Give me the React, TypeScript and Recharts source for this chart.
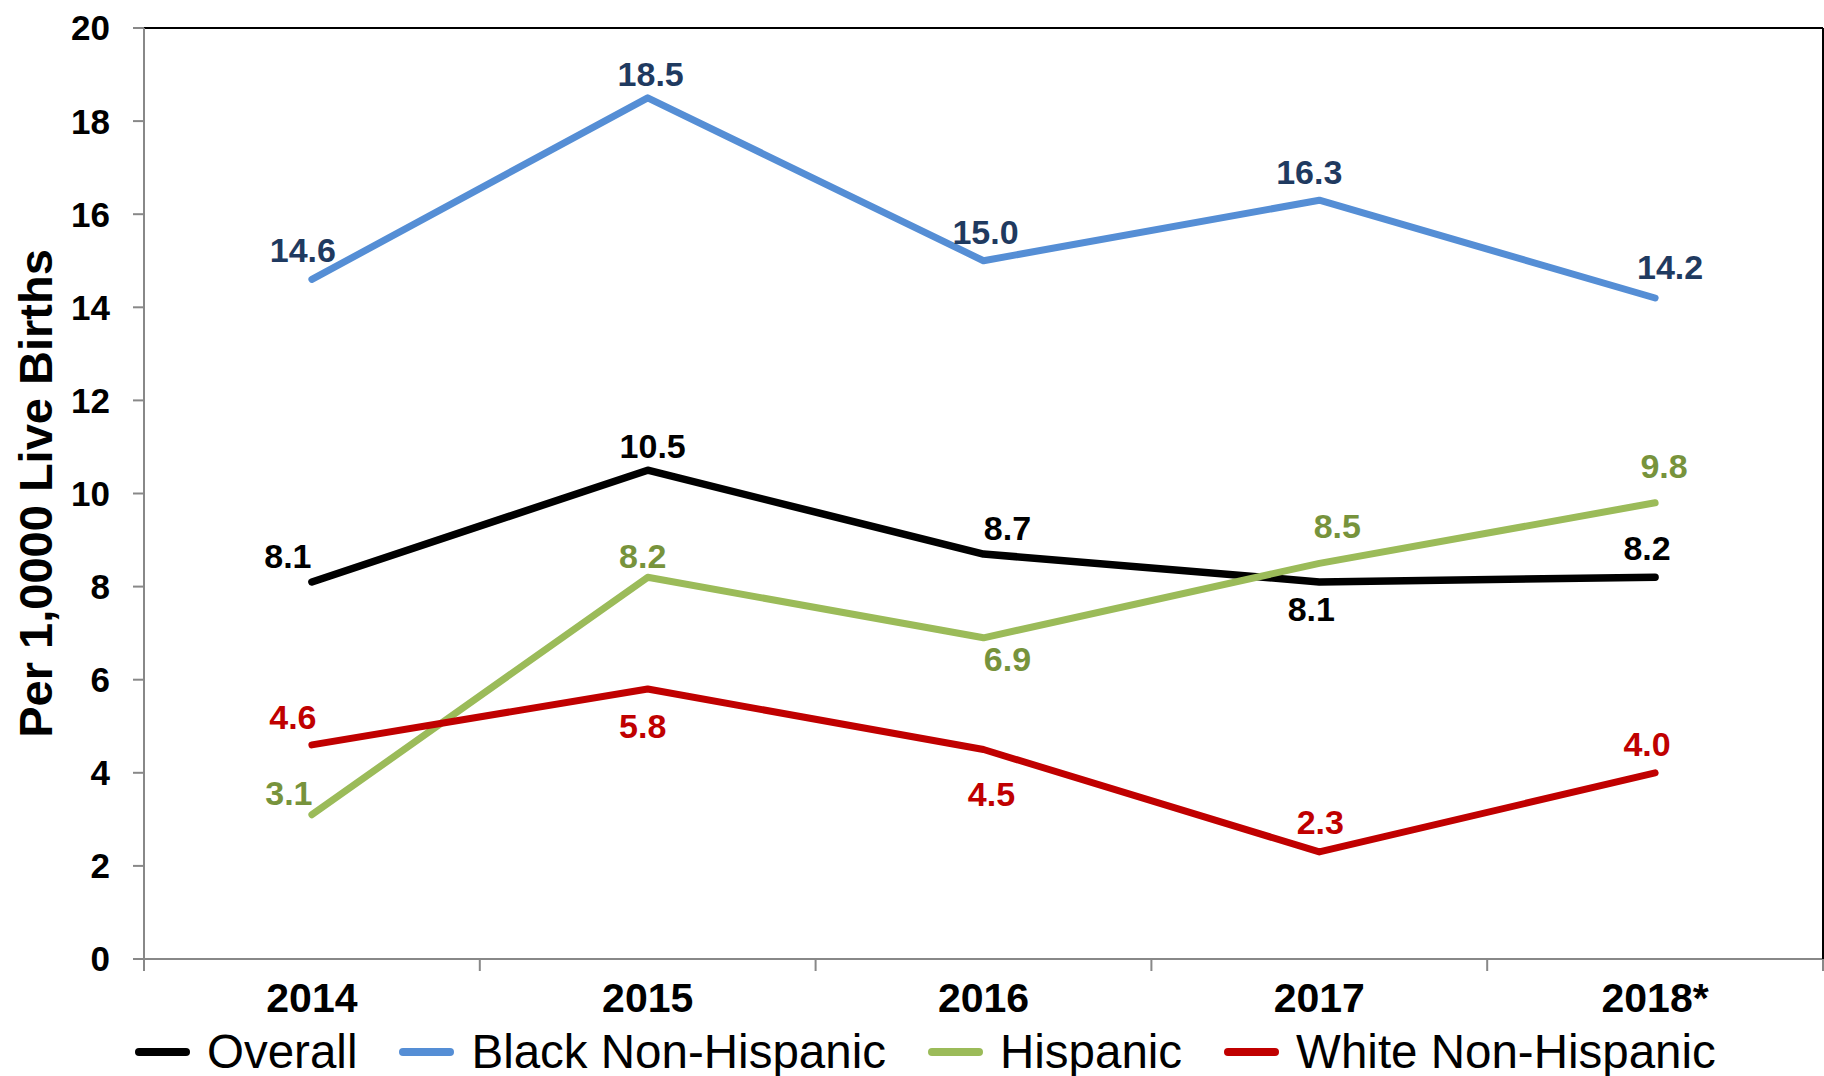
import { CartesianGrid, LabelList, Line, LineChart, ReferenceLine, XAxis, YAxis } from "recharts";

const years = ["2014", "2015", "2016", "2017", "2018*"];
const overall = [8.1, 10.5, 8.7, 8.1, 8.2];
const blackNH = [14.6, 18.5, 15.0, 16.3, 14.2];
const hispanic = [3.1, 8.2, 6.9, 8.5, 9.8];
const whiteNH = [4.6, 5.8, 4.5, 2.3, 4.0];
const yTicks = [0, 2, 4, 6, 8, 10, 12, 14, 16, 18, 20];

// label nudges (px) relative to each point, per series
const overallNudge = [[-24, -26], [5, -24], [24, -26], [-8, 27], [-8, -29]];
const blackNudge = [[-9, -29], [3, -24], [2, -29], [-10, -28], [15, -31]];
const hispanicNudge = [[-23, -22], [-5, -21], [24, 21], [18, -37], [9, -37]];
const whiteNudge = [[-19, -28], [-5, 37], [8, 44], [1, -30], [-8, -29]];

const FONT = "'Liberation Sans', Arial, Helvetica, sans-serif";
const W = 1824;
const H = 1076;
const PLOT_LEFT = 144;
const HALF_BAND = (W - PLOT_LEFT - 1) / years.length / 2;

const data = years.map((year, i) => ({
  year,
  overall: overall[i],
  black: blackNH[i],
  hispanic: hispanic[i],
  white: whiteNH[i],
}));

const series = [
  { key: "overall", name: "Overall", line: "#000000", label: "#000000", nudge: overallNudge, width: 7.5 },
  { key: "black", name: "Black Non-Hispanic", line: "#558ED5", label: "#1F3A60", nudge: blackNudge, width: 7 },
  { key: "hispanic", name: "Hispanic", line: "#9BBB59", label: "#77933C", nudge: hispanicNudge, width: 7 },
  { key: "white", name: "White Non-Hispanic", line: "#C00000", label: "#C00000", nudge: whiteNudge, width: 7 },
];

function makeLabel(color: string, nudge: number[][]) {
  return (props: any) => {
    const { x, y, value, index } = props;
    const [dx, dy] = nudge[index] ?? [0, -26];
    return (
      <text
        x={x + dx}
        y={y + dy + 12}
        textAnchor="middle"
        fill={color}
        fontSize={34}
        fontWeight="bold"
        fontFamily={FONT}
      >
        {Number(value).toFixed(1)}
      </text>
    );
  };
}

function XTick(props: any) {
  const { x, y, payload, index } = props;
  const last = index === years.length - 1;
  return (
    <g>
      <line x1={x - HALF_BAND} x2={x - HALF_BAND} y1={y} y2={y + 12} stroke="#888" strokeWidth={2} />
      {last && <line x1={x + HALF_BAND} x2={x + HALF_BAND} y1={y} y2={y + 12} stroke="#888" strokeWidth={2} />}
      <text x={x} y={y + 53} textAnchor="middle" fontSize={41} fontWeight="bold" fontFamily={FONT} fill="#000">
        {payload.value}
      </text>
    </g>
  );
}

function YTitle(props: any) {
  const vb = props.viewBox;
  const cy = vb.y + vb.height / 2;
  return (
    <text
      x={52}
      y={cy}
      transform={`rotate(-90, 52, ${cy})`}
      textAnchor="middle"
      fontSize={47}
      fontWeight="bold"
      fontFamily={FONT}
      fill="#000"
    >
      Per 1,0000 Live Births
    </text>
  );
}

export default function App() {
  return (
    <div style={{ position: "absolute", left: 0, top: 0, width: W, height: H, background: "#fff", fontFamily: FONT }}>
      <LineChart width={W} height={H} data={data} margin={{ top: 28, right: 0, left: 0, bottom: 0 }}>
        <CartesianGrid vertical={false} stroke="#8c8c8c" strokeWidth={2} />
        <XAxis
          dataKey="year"
          padding={{ left: HALF_BAND, right: HALF_BAND }}
          height={117}
          axisLine={{ stroke: "#888", strokeWidth: 2 }}
          tickLine={false}
          tickSize={0}
          tickMargin={0}
          tick={<XTick />}
          interval={0}
        />
        <YAxis
          yAxisId="left"
          width={PLOT_LEFT}
          domain={[0, 20]}
          ticks={yTicks}
          interval={0}
          axisLine={{ stroke: "#888", strokeWidth: 2 }}
          tickLine={{ stroke: "#888", strokeWidth: 2 }}
          tickSize={11}
          tickMargin={23}
          tick={{ fontSize: 35, fontWeight: "bold", fill: "#000", fontFamily: FONT }}
          label={<YTitle />}
        />
        <YAxis
          yAxisId="right"
          orientation="right"
          width={1}
          domain={[0, 20]}
          tick={false}
          tickLine={false}
          axisLine={{ stroke: "#000", strokeWidth: 2 }}
        />
        <ReferenceLine yAxisId="left" y={20} stroke="#000" strokeWidth={2} />
        {series.map((s) => (
          <Line
            key={s.key}
            yAxisId="left"
            type="linear"
            dataKey={s.key}
            name={s.name}
            stroke={s.line}
            strokeWidth={s.width}
            strokeLinecap="round"
            strokeLinejoin="round"
            dot={false}
            activeDot={false}
            isAnimationActive={false}
          >
            <LabelList dataKey={s.key} content={makeLabel(s.label, s.nudge)} />
          </Line>
        ))}
      </LineChart>
      <div
        style={{
          position: "absolute",
          left: 135,
          top: 1052,
          transform: "translateY(-50%)",
          display: "flex",
          alignItems: "center",
          whiteSpace: "nowrap",
        }}
      >
        {series.map((s) => (
          <div key={s.key} style={{ display: "flex", alignItems: "center", marginRight: 42 }}>
            <span style={{ width: 55, height: 8, borderRadius: 4, background: s.line, marginRight: 17 }} />
            <span style={{ fontSize: 47.5, lineHeight: "54px", color: "#000" }}>{s.name}</span>
          </div>
        ))}
      </div>
    </div>
  );
}
